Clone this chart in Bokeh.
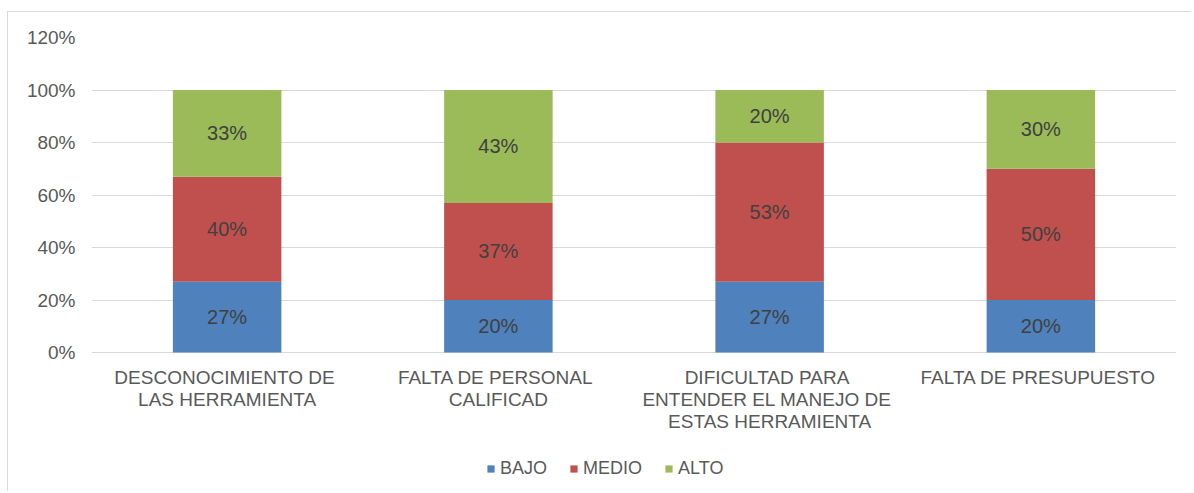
from bokeh.plotting import figure
from bokeh.models import ColumnDataSource, Legend, LegendItem, FixedTicker, NumeralTickFormatter
from bokeh.core.properties import value
from bokeh.embed import file_html
from bokeh.resources import INLINE

categories = [
    "DESCONOCIMIENTO  DE\nLAS HERRAMIENTA",
    "FALTA DE  PERSONAL\nCALIFICAD",
    "DIFICULTAD  PARA\nENTENDER  EL MANEJO DE\nESTAS HERRAMIENTA",
    "FALTA DE  PRESUPUESTO",
]
series = ["BAJO", "MEDIO", "ALTO"]
bajo = [0.27, 0.20, 0.27, 0.20]
medio = [0.40, 0.37, 0.53, 0.50]
alto = [0.33, 0.43, 0.20, 0.30]
colors = ["#4F81BD", "#C0504D", "#9BBB59"]
y_ticks = [0, 0.2, 0.4, 0.6, 0.8, 1.0, 1.2]

FONT = "Liberation Sans"
PX_PER_UNIT = 262.5          # 20% = 52.5 px
Y_MIN = 1.2 - 443 / PX_PER_UNIT  # frame extended below 0 to hold labels and legend

src = ColumnDataSource(dict(cat=categories, BAJO=bajo, MEDIO=medio, ALTO=alto))

p = figure(x_range=categories, y_range=(Y_MIN, 1.2), width=1184, height=480,
           output_backend="svg", toolbar_location=None,
           min_border_left=83, min_border_right=16, min_border_top=25, min_border_bottom=12)
p.styles = {"border-top": "1px solid #d9d9d9", "border-left": "1px solid #d9d9d9",
            "margin-left": "7px", "margin-top": "11px"}
p.outline_line_color = None
p.background_fill_color = "white"
p.border_fill_color = "white"

renderers = p.vbar_stack(series, x="cat", width=0.4, color=colors, source=src, line_color=None)

# segment labels
vals = [bajo, medio, alto]
for i, s in enumerate(series):
    bottoms = [sum(vals[k][j] for k in range(i)) for j in range(len(categories))]
    mids = [b + v / 2 for b, v in zip(bottoms, vals[i])]
    texts = ["%d%%" % round(v * 100) for v in vals[i]]
    p.text(x=categories, y=mids, text=texts, text_align="center", text_baseline="middle",
           text_font=value(FONT), text_font_size="20px", text_color="#404040")

# category labels (drawn under the 0 line)
p.text(x=categories, y=[-14 / PX_PER_UNIT] * len(categories), text=categories,
       text_align="center", text_baseline="top", text_line_height=1.07,
       text_font=value(FONT), text_font_size="19px", text_color="#595959")

p.xaxis.visible = False

p.yaxis.ticker = FixedTicker(ticks=y_ticks)
p.yaxis.formatter = NumeralTickFormatter(format="0%")
p.yaxis.axis_line_color = None
p.yaxis.major_tick_line_color = None
p.yaxis.minor_tick_line_color = None
p.yaxis.major_label_standoff = 10
p.yaxis.major_label_text_font = FONT
p.yaxis.major_label_text_font_size = "19px"
p.yaxis.major_label_text_color = "#595959"

p.xgrid.grid_line_color = None
p.ygrid.grid_line_color = "#d9d9d9"
p.ygrid.grid_line_width = 1
p.ygrid.ticker = FixedTicker(ticks=y_ticks)

legend = Legend(items=[LegendItem(label=s, renderers=[r]) for s, r in zip(series, renderers)],
                orientation="horizontal", location=(395, 1))
legend.glyph_width = 9
legend.glyph_height = 9
legend.label_standoff = 5
legend.spacing = 22
legend.padding = 0
legend.margin = 0
legend.border_line_color = None
legend.background_fill_alpha = 0
legend.label_text_font = FONT
legend.label_text_font_size = "18px"
legend.label_text_color = "#595959"
p.add_layout(legend, "center")

open("out.html", "w").write(file_html(p, INLINE))
